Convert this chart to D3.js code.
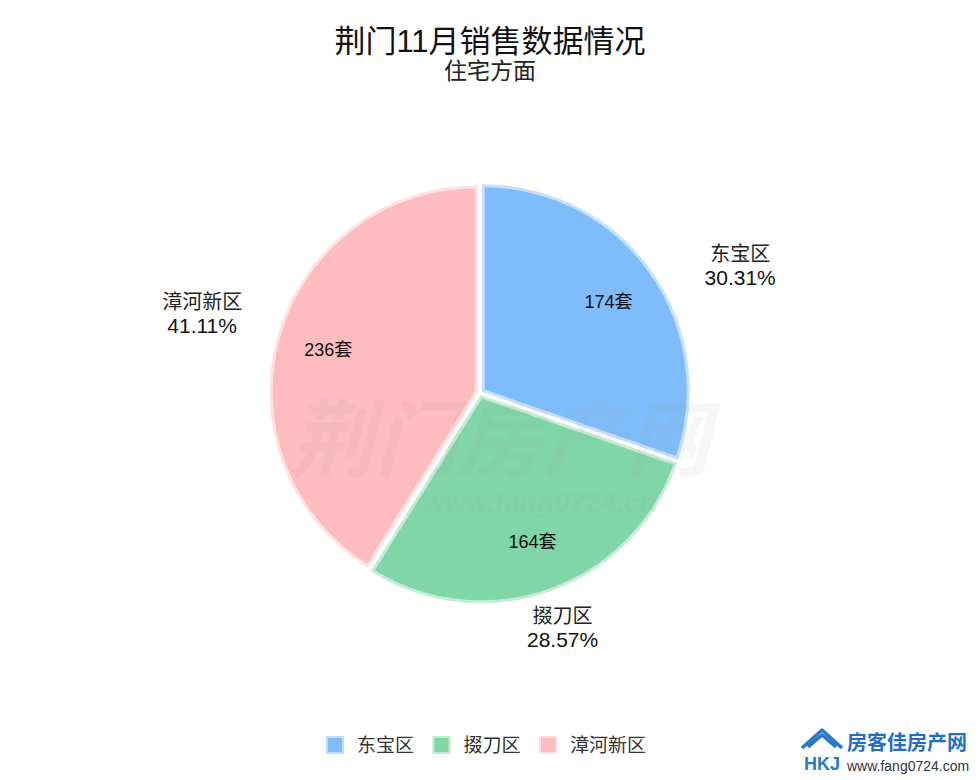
<!DOCTYPE html>
<html>
<head>
<meta charset="utf-8">
<script src="https://cdn.jsdelivr.net/npm/d3@7"></script>
<style>
  body { margin: 0; background: #fff; }
  svg text { font-family: "Liberation Sans", "Noto Sans CJK SC", sans-serif; }
</style>
</head>
<body>
<div id="chart"></div>
<script>
const width = 980, height = 780;

// data
const districts = ['东宝区', '掇刀区', '漳河新区'];
const units = [174, 164, 236];
const shares = ['30.31%', '28.57%', '41.11%'];
const colors = ['#7fbcfb', '#80d5a9', '#ffbcbf'];

const cx = 480, cy = 393, R = 205;

const svg = d3.select('#chart')
    .append('svg')
    .attr('width', width)
    .attr('height', height);

// title
svg.append('text')
    .text('荆门11月销售数据情况')
    .attr('x', 490).attr('y', 52)
    .attr('text-anchor', 'middle')
    .attr('font-size', 31)
    .attr('fill', '#111');

svg.append('text')
    .text('住宅方面')
    .attr('x', 490).attr('y', 79)
    .attr('text-anchor', 'middle')
    .attr('font-size', 23)
    .attr('fill', '#222');

const data = districts.map((d, i) => ({ name: d, value: units[i], share: shares[i], color: colors[i] }));

const pie = d3.pie().value(d => d.value).sort(null);
const arcs = pie(data);
const arc = d3.arc().innerRadius(0).outerRadius(R);
const inner = d3.arc().innerRadius(R * 0.75).outerRadius(R * 0.75);

const mid = d => (d.startAngle + d.endAngle) / 2;
const offset = 4;
const shift = d => `translate(${Math.sin(mid(d)) * offset},${-Math.cos(mid(d)) * offset})`;

const g = svg.append('g').attr('transform', `translate(${cx},${cy})`);

g.selectAll('path')
    .data(arcs)
    .enter()
    .append('path')
    .attr('transform', shift)
    .attr('d', arc)
    .attr('fill', d => d.data.color)
    .attr('stroke', d => d3.interpolateRgb(d.data.color, '#fff')(0.55))
    .attr('stroke-width', 3);

// faint watermark over the pie
const wm = svg.append('g').attr('fill', '#999').attr('opacity', 0.08);
wm.append('text')
    .text('荆门房产网')
    .attr('x', 500).attr('y', 470)
    .attr('text-anchor', 'middle')
    .attr('font-size', 84)
    .attr('font-weight', 'bold')
    .attr('font-style', 'italic');
wm.append('text')
    .text('www.fang0724.cn')
    .attr('x', 540).attr('y', 512)
    .attr('text-anchor', 'middle')
    .attr('font-size', 28)
    .attr('font-weight', 'bold')
    .attr('font-style', 'italic');

const lab = svg.append('g').attr('transform', `translate(${cx},${cy})`);

lab.selectAll('text.val')
    .data(arcs)
    .enter()
    .append('text')
    .attr('class', 'val')
    .text(d => d.data.value + '套')
    .attr('transform', d => `${shift(d)} translate(${inner.centroid(d)})`)
    .attr('text-anchor', 'middle')
    .attr('dy', '0.35em')
    .attr('font-size', 18)
    .attr('fill', '#111');

// outside labels: polar position with a small nudge per side
const outerR = [1.33, 1.21, 1.41];
const nudge = [[38, 30], [0, 0], [0, 0]];
const labels = lab.selectAll('g.lbl')
    .data(arcs)
    .enter()
    .append('g')
    .attr('class', 'lbl')
    .attr('transform', (d, i) => {
        const a = mid(d), r = R * outerR[i];
        return `translate(${Math.sin(a) * r + nudge[i][0]},${-Math.cos(a) * r + nudge[i][1]})`;
    });

labels.append('text')
    .text(d => d.data.name)
    .attr('text-anchor', 'middle')
    .attr('y', -4)
    .attr('font-size', 20)
    .attr('fill', '#222');

labels.append('text')
    .text(d => d.data.share)
    .attr('text-anchor', 'middle')
    .attr('y', 20)
    .attr('font-size', 21)
    .attr('fill', '#111');

// legend
const legendX = d3.scalePoint().domain(districts).range([327, 540]);
const lg = svg.append('g').selectAll('g')
    .data(data)
    .enter()
    .append('g')
    .attr('transform', d => `translate(${legendX(d.name)},745)`);

lg.append('rect')
    .attr('x', 0).attr('y', -8)
    .attr('width', 16).attr('height', 16)
    .attr('fill', d => d.color)
    .attr('stroke', d => d3.interpolateRgb(d.color, '#fff')(0.5))
    .attr('stroke-width', 2);

lg.append('text')
    .text(d => d.name)
    .attr('x', 30)
    .attr('dy', '0.35em')
    .attr('font-size', 19)
    .attr('fill', '#333');

// logo bottom right
const logo = svg.append('g').attr('transform', 'translate(800,728)');
logo.append('path')
    .attr('d', 'M2,20 L22,2 L42,20 M8,19 L22,7 L36,19')
    .attr('fill', 'none')
    .attr('stroke', '#2a78c8')
    .attr('stroke-width', 3.5)
    .attr('stroke-linejoin', 'round');
logo.append('text')
    .text('HKJ')
    .attr('x', 4).attr('y', 42)
    .attr('font-size', 18)
    .attr('font-weight', 'bold')
    .attr('fill', '#2a78c8');
logo.append('text')
    .text('房客佳房产网')
    .attr('x', 47).attr('y', 22)
    .attr('font-size', 20)
    .attr('font-weight', 'bold')
    .attr('fill', '#1f6fc5');
logo.append('text')
    .text('www.fang0724.com')
    .attr('x', 47).attr('y', 43)
    .attr('font-size', 14)
    .attr('fill', '#333');
</script>
</body>
</html>
